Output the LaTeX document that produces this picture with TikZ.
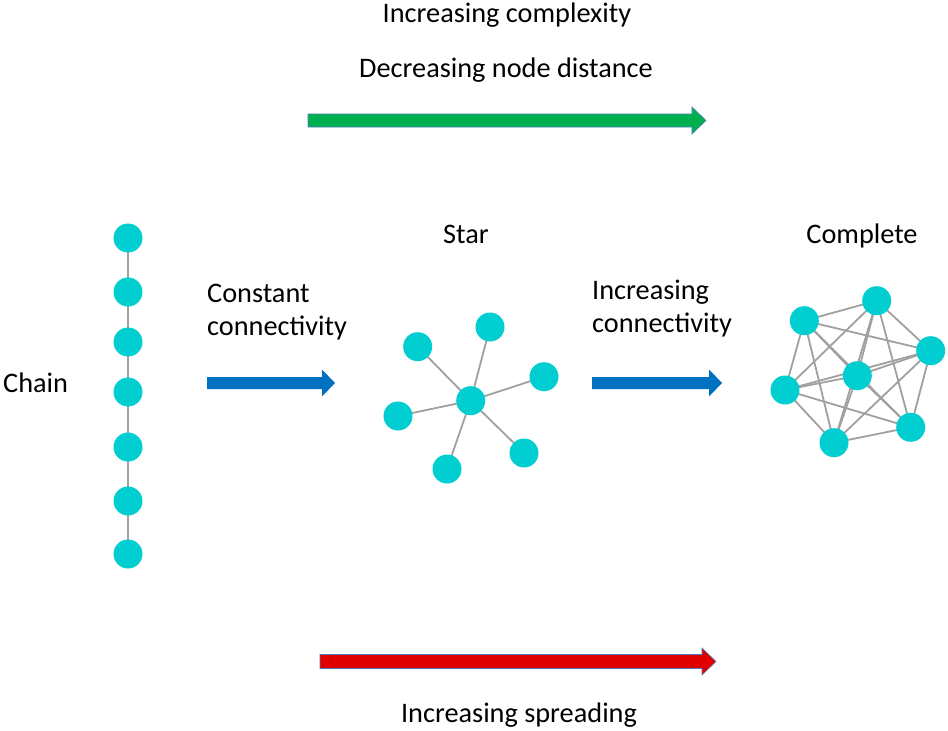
\documentclass[tikz,border=0pt]{standalone}
\usepackage{fontspec}
\setmainfont{Carlito}
\usetikzlibrary{backgrounds}
\definecolor{nodecol}{HTML}{00CED1}
\definecolor{edgecol}{HTML}{A0A0A0}
\definecolor{arrgreen}{HTML}{00B050}
\definecolor{arrblue}{HTML}{0070C0}
\definecolor{arrred}{HTML}{E00000}
\definecolor{arredge}{HTML}{4A7EBB}
\begin{document}
\begin{tikzpicture}[x=1pt,y=-1pt,
  vtx/.style={circle,fill=nodecol,minimum size=29pt,inner sep=0pt},
  edge/.style={draw=edgecol,line width=1.8pt},
  lbl/.style={font=\fontsize{28.3}{33}\selectfont,inner sep=0pt,anchor=base},
  lbll/.style={lbl,anchor=base west},
  fatarrow/.style={draw=arredge,line width=0.6pt,line join=miter}]
\useasboundingbox (0,0) rectangle (948,731);
% texts
\node[lbl] (t1) at (507,22) {Increasing complexity};
\node[lbl] (t2) at (506,77) {Decreasing node distance};
\node[lbl] (t3) at (466,243) {Star};
\node[lbl] (t4) at (862,243) {Complete};
\node[lbll] (t5a) at (207,302) {Constant};
\node[lbll] (t5b) at (207,335) {connectivity};
\node[lbll] (t6a) at (592,299) {Increasing};
\node[lbll] (t6b) at (592,332) {connectivity};
\node[lbll] (t7) at (3,392) {Chain};
\node[lbl] (t8) at (519,722) {Increasing spreading};
% arrows
\path[fatarrow,fill=arrgreen] (308,114) -- (692,114) -- (692,107) -- (706,120.5) -- (692,134) -- (692,127) -- (308,127) -- cycle;
\path[fatarrow,fill=arrblue,draw=none] (207,377) -- (322,377) -- (322,369.5) -- (335,383) -- (322,396.5) -- (322,389) -- (207,389) -- cycle;
\path[fatarrow,fill=arrblue,draw=none] (592,377) -- (709,377) -- (709,369.5) -- (722,383) -- (709,396.5) -- (709,389) -- (592,389) -- cycle;
\path[fatarrow,fill=arrred] (320,654.5) -- (702,654.5) -- (702,648) -- (716,661.5) -- (702,675) -- (702,668.5) -- (320,668.5) -- cycle;
% chain
\foreach \i/\y in {1/238,2/292,3/342,4/392,5/447,6/501,7/554}{
  \node[vtx] (c\i) at (128,\y) {};
}
% star
\node[vtx] (s0) at (470.7,400.7) {};
\node[vtx] (s1) at (490,327) {};
\node[vtx] (s2) at (417.7,346.7) {};
\node[vtx] (s3) at (544,376.7) {};
\node[vtx] (s4) at (398,416) {};
\node[vtx] (s5) at (524,453) {};
\node[vtx] (s6) at (447,469) {};
% complete
\node[vtx] (k1) at (876.7,300.7) {};
\node[vtx] (k2) at (804.3,320.7) {};
\node[vtx] (k3) at (930.7,350.7) {};
\node[vtx] (k4) at (857.3,375.7) {};
\node[vtx] (k5) at (785,390) {};
\node[vtx] (k6) at (910.7,427.3) {};
\node[vtx] (k7) at (834,442.7) {};
\begin{pgfonlayer}{background}
\foreach \a/\b in {1/2,2/3,3/4,4/5,5/6,6/7}{
  \draw[edge] (c\a.center) -- (c\b.center);
}
\foreach \k in {1,...,6}{
  \draw[edge] (s0.center) -- (s\k.center);
}
\foreach \a/\b in {1/2,1/3,1/4,1/5,1/6,1/7,2/3,2/4,2/5,2/6,2/7,3/4,3/5,3/6,3/7,4/5,4/6,4/7,5/6,5/7,6/7}{
  \draw[edge] (k\a.center) -- (k\b.center);
}
\end{pgfonlayer}
\end{tikzpicture}
\end{document}
